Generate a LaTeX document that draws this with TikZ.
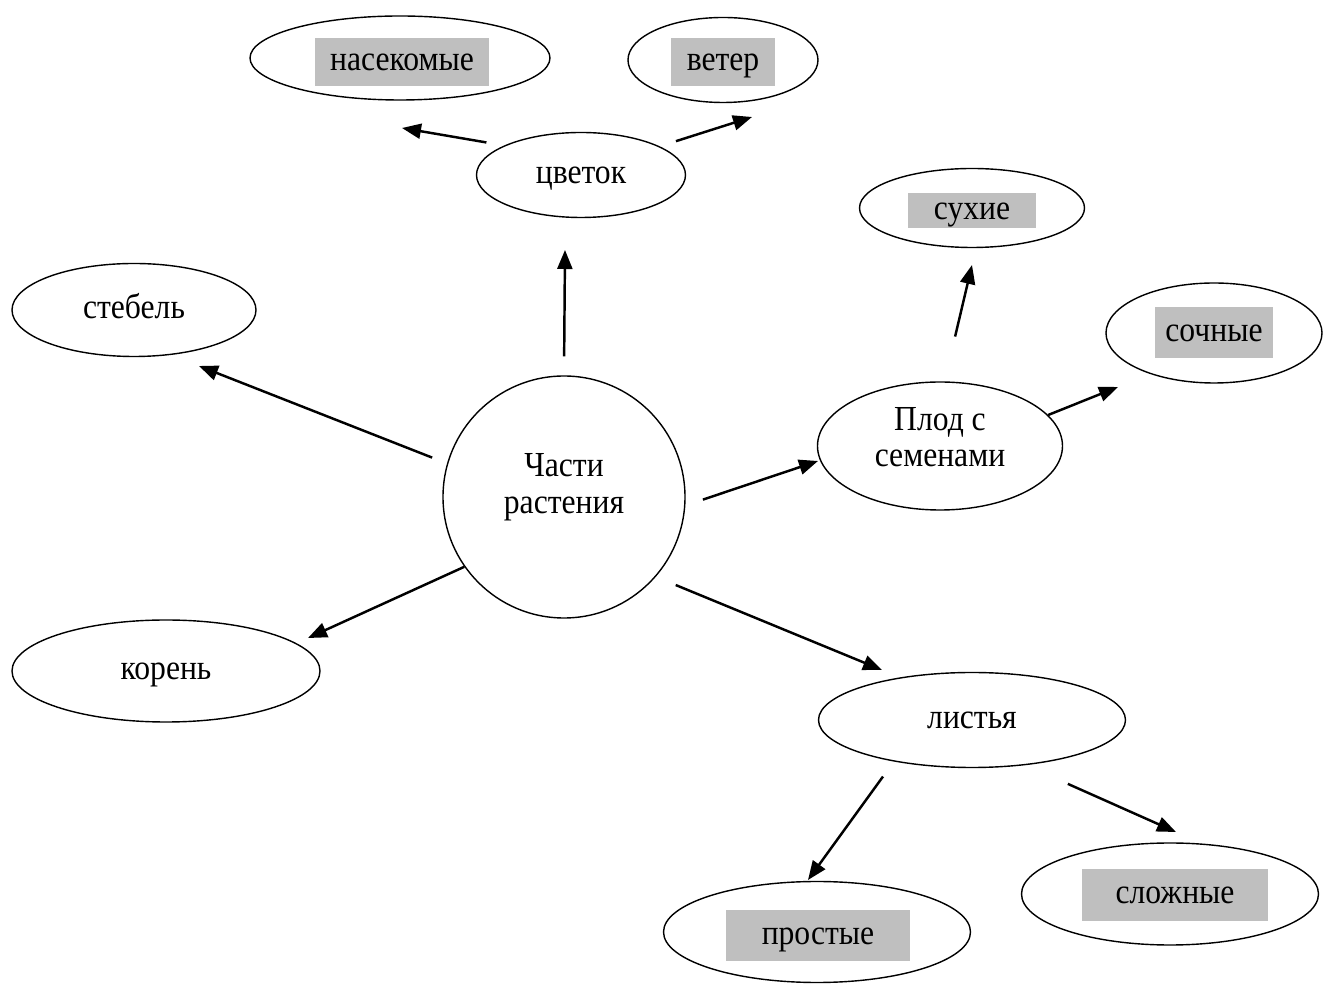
\documentclass[tikz,border=0pt]{standalone}
\usepackage{fontspec}
\setmainfont[FakeStretch=0.9]{Liberation Serif}
\usepackage{xcolor}
\usetikzlibrary{shapes.geometric,arrows.meta,calc}
\definecolor{boxgray}{RGB}{191,191,191}
\tikzset{
  part/.style={draw, ellipse, line width=0.8pt, inner sep=0pt,
    font=\fontsize{20}{21}\selectfont},
  word/.style={text height=0.45cm, text depth=0.1cm},
  tag/.style={word, fill=boxgray, inner sep=0pt, font=\fontsize{20}{21}\selectfont},
  arr/.style={-{Triangle[length=0.38cm,width=0.3cm]}, line width=1.4pt},
}

\begin{document}
\begin{tikzpicture}
        \useasboundingbox (0,0) rectangle (26.46,-19.7);

        % Draw the centre
        \node[part, circle, align=center, text depth=0.55cm, minimum size=4.84cm] (main) at (11.28,-9.94) {Части\\растения};

        % Draw the parts
        \node[part, word, minimum width=4.18cm, minimum height=1.7cm] (flower) at (11.62,-3.50) {цветок};
        \node[part, word, minimum width=4.88cm, minimum height=1.86cm] (stem) at (2.68,-6.20) {стебель};
        \node[part, word, minimum width=6.16cm, minimum height=2.04cm] (root) at (3.32,-13.42) {корень};
        \node[part, align=center, text depth=0.36cm, minimum width=4.9cm, minimum height=2.56cm] (fruit) at (18.80,-8.92) {Плод с\\семенами};
        \node[part, word, minimum width=6.14cm, minimum height=1.9cm] (leaves) at (19.44,-14.40) {листья};

        % Draw the kinds
        \node[part, minimum width=6cm, minimum height=1.68cm] (insects) at (8.00,-1.16) {};
        \node[tag, minimum width=3.48cm, minimum height=0.96cm] (insects-tag) at (8.04,-1.24) {насекомые};
        \node[part, minimum width=3.8cm, minimum height=1.7cm] (wind) at (14.46,-1.20) {};
        \node[tag, minimum width=2.08cm, minimum height=0.96cm] (wind-tag) at (14.46,-1.24) {ветер};
        \node[part, minimum width=4.5cm, minimum height=1.58cm] (dry) at (19.44,-4.16) {};
        \node[tag, minimum width=2.56cm, minimum height=0.70cm] (dry-tag) at (19.44,-4.21) {сухие};
        \node[part, minimum width=4.32cm, minimum height=2cm] (juicy) at (24.28,-6.66) {};
        \node[tag, minimum width=2.36cm, minimum height=1.02cm] (juicy-tag) at (24.28,-6.65) {сочные};
        \node[part, minimum width=5.94cm, minimum height=2.04cm] (complex) at (23.40,-17.88) {};
        \node[tag, minimum width=3.72cm, minimum height=1.04cm] (complex-tag) at (23.50,-17.90) {сложные};
        \node[part, minimum width=6.14cm, minimum height=2.02cm] (simple) at (16.34,-18.64) {};
        \node[tag, minimum width=3.68cm, minimum height=1.02cm] (simple-tag) at (16.36,-18.71) {простые};

        % Arrow tips
        \coordinate (to-flower) at ($(flower)+(-0.32,-1.50)$);
        \coordinate (to-insects) at ($(insects)+(0.04,-1.40)$);
        \coordinate (to-wind) at ($(wind)+(0.58,-1.14)$);
        \coordinate (to-stem) at ($(stem)+(1.30,-1.12)$);
        \coordinate (to-root) at ($(root)+(2.84,0.66)$);
        \coordinate (to-fruit) at ($(fruit)+(-2.44,-0.30)$);
        \coordinate (to-leaves) at ($(leaves)+(-1.80,1.00)$);
        \coordinate (to-dry) at ($(dry)+(0,-1.14)$);
        \coordinate (to-juicy) at ($(juicy)+(-1.92,-1.08)$);
        \coordinate (to-simple) at ($(simple)+(-0.18,1.04)$);
        \coordinate (to-complex) at ($(complex)+(0.12,1.24)$);

        % Draw the arrows
        \draw[arr, shorten <=0.38cm] (main.north) -- (to-flower);
        \draw[arr, shorten <=0.36cm] (flower.159) -- (to-insects);
        \draw[arr, shorten <=0.34cm] (flower.20) -- (to-wind);
        \draw[arr, shorten <=0.32cm] (main.164) -- (to-stem);
        \draw[arr] (main.215) -- (to-root);
        \draw[arr, shorten <=0.37cm] (main.356) -- (to-fruit);
        \draw[arr, shorten <=0.43cm] (main.319) -- (to-leaves);
        \draw[arr, shorten <=0.92cm] (fruit.86) -- (to-dry);
        \draw[arr] (fruit.16) -- (to-juicy);
        \draw[arr, shorten <=0.37cm] (leaves.208) -- (to-simple);
        \draw[arr, shorten <=0.92cm] (leaves.320) -- (to-complex);
\end{tikzpicture}
\end{document}
